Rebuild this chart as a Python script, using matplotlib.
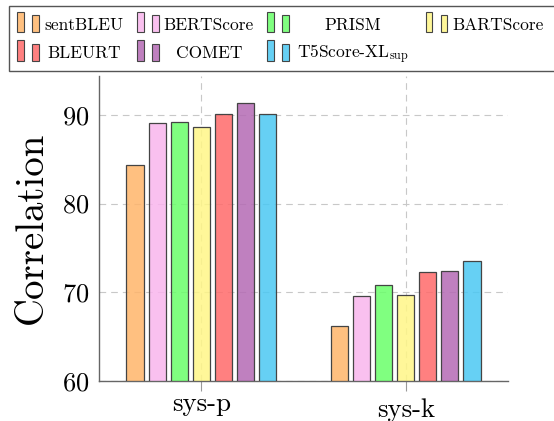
import numpy as np
import matplotlib
matplotlib.use('Agg')
import matplotlib.pyplot as plt
from matplotlib.patches import Rectangle
from matplotlib.transforms import ScaledTranslation

plt.rcParams['font.family'] = 'cmr10'
plt.rcParams['mathtext.fontset'] = 'cm'
plt.rcParams['axes.formatter.use_mathtext'] = True

# data
groups = ['sys-p', 'sys-k']
metrics = ['sentBLEU', 'BERTScore', 'PRISM', 'BARTScore',
           'BLEURT', 'COMET', r'T5Score-XL$_{\mathrm{sup}}$']
sys_p = [84.4, 89.1, 89.2, 88.7, 90.1, 91.4, 90.1]
sys_k = [66.2, 69.6, 70.8, 69.7, 72.3, 72.4, 73.5]
colors = ['#ffc080', '#fac0f0', '#80ff80', '#fff799',
          '#ff8080', '#bf80bf', '#66d0f5']

W, H = 554, 421
ALPHA = 0.85

def see_through(hexcol, a=ALPHA):
    # base colour that gives hexcol when blended over white at alpha a
    rgb = np.array(matplotlib.colors.to_rgb(hexcol))
    base = np.clip(1 - (1 - rgb) / a, 0, 1)
    return (*base, a)

fig = plt.figure(figsize=(W / 100, H / 100), dpi=100)
ax = fig.add_axes([99 / W, 1 - 380.7 / H, (508 - 99) / W, (380.7 - 75.7) / H])

x = np.arange(len(groups))
width = 0.085
step = 0.1077
for i, (name, col) in enumerate(zip(metrics, colors)):
    vals = [sys_p[i], sys_k[i]]
    ax.bar(x + (i - 3) * step, np.array(vals) - 60, width, bottom=60,
           color=see_through(col), edgecolor='#444444', linewidth=0.9,
           zorder=3)

ax.set_xlim(-0.5, 1.5)
ax.set_ylim(60, 94.44)
ax.set_xticks(x)
ax.set_xticklabels(groups)
ax.set_yticks([60, 70, 80, 90])
ax.tick_params(axis='x', length=7, color='#999999', labelsize=19.4, pad=1.5)
ax.tick_params(axis='y', length=0, labelsize=19, pad=7)
ax.grid(True, color='#c8c8c8', linestyle=(0, (6, 4.5)), linewidth=0.8, zorder=1)
ax.set_axisbelow(True)

for s in ['top', 'right']:
    ax.spines[s].set_visible(False)
for s in ['left', 'bottom']:
    ax.spines[s].set_color('#666666')
    ax.spines[s].set_linewidth(1.0)

ax.set_ylabel('Correlation', fontsize=28)
ax.yaxis.set_label_coords(-0.12, 0.5)

# "sys-k" sits a little lower (label anchored at its top in the original)
lbl = ax.get_xticklabels()[1]
lbl.set_transform(lbl.get_transform() + ScaledTranslation(0, -6 / 100, fig.dpi_scale_trans))

# legend drawn by hand: two little bars then the name, 4 columns
def fx(px):
    return px / W

def fy(py):
    return 1 - py / H

fig.add_artist(Rectangle((fx(9), fy(71)), fx(600), (71 - 6) / H,
                         facecolor='white', edgecolor='#555555', linewidth=1.0))
icon_x = [17, 137, 267, 426]
text_cx = [84, 209, 353, 498]
row_bottom = [32.3, 61.0]
row_base = [30.0, 58.3]
for i, (name, col) in enumerate(zip(metrics, colors)):
    r, c = divmod(i, 4)
    for dx, h in [(0, 20.5), (15, 17.3)]:
        fig.add_artist(Rectangle((fx(icon_x[c] + dx), fy(row_bottom[r])),
                                 fx(6.5), h / H, facecolor=see_through(col),
                                 edgecolor='#444444', linewidth=0.8))
    fig.text(fx(text_cx[c]), fy(row_base[r]), name, fontsize=12.5,
             ha='center', va='baseline')

fig.savefig('out.png', dpi=100)
